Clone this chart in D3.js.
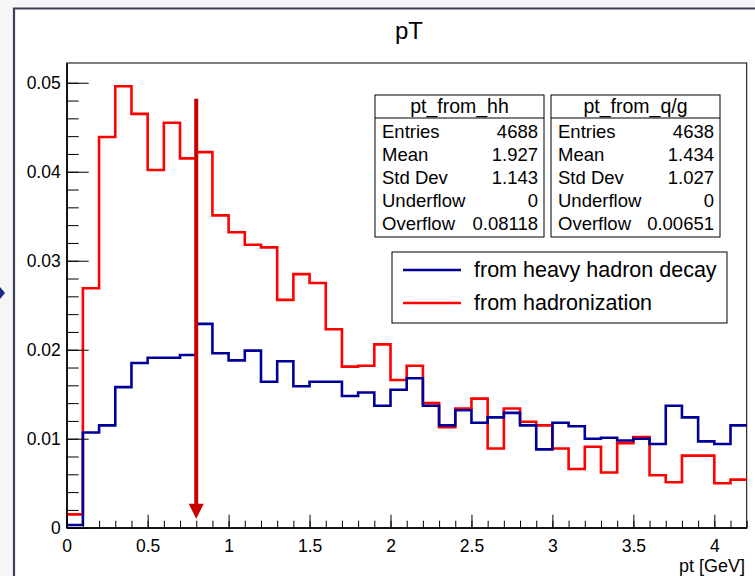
<!DOCTYPE html>
<html>
<head>
<meta charset="utf-8">
<script src="https://cdn.jsdelivr.net/npm/d3@7"></script>
<style>
  html, body { margin: 0; padding: 0; background: #f6f6f8; }
  svg { display: block; }
  text { font-family: "Liberation Sans", Arial, Helvetica, sans-serif; fill: #000; }
</style>
</head>
<body>
<svg id="chart" width="755" height="576"></svg>
<script>
// ---- data ----
const binWidth = 0.1;
const xMax = 4.2;
const fromHadronization = [
  0.0015, 0.0269, 0.0439, 0.0496, 0.0465, 0.0402, 0.0455, 0.0415, 0.0422, 0.0351,
  0.0332, 0.0318, 0.0315, 0.0256, 0.0285, 0.0275, 0.0223, 0.0181, 0.0182, 0.0206,
  0.0166, 0.0182, 0.0140, 0.0113, 0.0134, 0.0145, 0.0089, 0.0134, 0.0119, 0.0115,
  0.0089, 0.0066, 0.0091, 0.0062, 0.0095, 0.0102, 0.0059, 0.0051, 0.0081, 0.0081,
  0.0050, 0.0054
];
const fromHeavyHadron = [
  0.0003, 0.0107, 0.0115, 0.0158, 0.0185, 0.0191, 0.0191, 0.0194, 0.0229, 0.0196,
  0.0188, 0.0199, 0.0164, 0.0187, 0.0159, 0.0164, 0.0164, 0.0148, 0.0152, 0.0137,
  0.0155, 0.0168, 0.0137, 0.0115, 0.0132, 0.0118, 0.0124, 0.0129, 0.0115, 0.0088,
  0.0118, 0.0114, 0.0100, 0.0101, 0.0098, 0.0100, 0.0094, 0.0137, 0.0124, 0.0097,
  0.0094, 0.0115
];
const xTickValues = [0, 0.5, 1, 1.5, 2, 2.5, 3, 3.5, 4];
const xTickLabels = ["0", "0.5", "1", "1.5", "2", "2.5", "3", "3.5", "4"];
const yTickValues = [0, 0.01, 0.02, 0.03, 0.04, 0.05];
const yTickLabels = ["0", "0.01", "0.02", "0.03", "0.04", "0.05"];
const statLabels = ["Entries", "Mean", "Std Dev", "Underflow", "Overflow"];
const statsHH = ["4688", "1.927", "1.143", "0", "0.08118"];
const statsQG = ["4638", "1.434", "1.027", "0", "0.00651"];
const statTitles = ["pt_from_hh", "pt_from_q/g"];
const legendLabels = ["from heavy hadron decay", "from hadronization"];
const arrowX = 0.8, arrowTop = 0.0482, arrowTip = 0.0010;

// ---- layout ----
const svg = d3.select("#chart");
const L = 66.7, R = 746.7, T = 63, B = 527.7;
const x = d3.scaleLinear().domain([0, xMax]).range([L, R]);
const y = d3.scaleLinear().domain([0, 0.05222]).range([B, T]);

// canvas background & window border
svg.append("rect").attr("x", 15).attr("y", 9).attr("width", 740).attr("height", 567).attr("fill", "#fff");
svg.append("path").attr("d", "M14,576 V8.5 H755").attr("fill", "none").attr("stroke", "#3b4052").attr("stroke-width", 2.2);
svg.append("path").attr("d", "M0,287 L5,293 L0,299 Z").attr("fill", "#1a2a80");

// title
svg.append("text").attr("x", 409).attr("y", 39).attr("text-anchor", "middle")
  .style("font-size", "24px").text("pT");

// frame
svg.append("rect").attr("x", L).attr("y", T).attr("width", R - L).attr("height", B - T)
  .attr("fill", "none").attr("stroke", "#000").attr("stroke-width", 1);

// histograms
function stepPath(vals) {
  let d = `M${x(0)},${y(vals[0])}`;
  vals.forEach((v, i) => {
    if (i > 0) d += `V${y(v)}`;
    d += `H${x(Math.min((i + 1) * binWidth, xMax))}`;
  });
  return d;
}
svg.append("path").attr("d", stepPath(fromHadronization)).attr("fill", "none")
  .attr("stroke", "#ff0000").attr("stroke-width", 2.6);
svg.append("path").attr("d", stepPath(fromHeavyHadron)).attr("fill", "none")
  .attr("stroke", "#000099").attr("stroke-width", 2.6);

// x axis
const xMinor = d3.range(0, 43).map(i => i * binWidth).filter(v => v <= xMax + 1e-9);
const xAxisMinor = d3.axisBottom(x).tickValues(xMinor).tickSizeInner(-7).tickSizeOuter(0).tickFormat("");
const xAxisMajor = d3.axisBottom(x).tickValues(xTickValues).tickSizeInner(-13).tickSizeOuter(0)
  .tickFormat((d, i) => xTickLabels[i]).tickPadding(12);
const gxm = svg.append("g").attr("transform", `translate(0,${B})`).call(xAxisMinor);
const gx = svg.append("g").attr("transform", `translate(0,${B})`).call(xAxisMajor);
[gxm, gx].forEach(g => { g.select(".domain").attr("stroke", "#000"); g.selectAll("line").attr("stroke", "#000"); });
gx.selectAll("text").style("font-size", "17.5px").attr("font-family", null);

// y axis
const yMinor = d3.range(0, 26).map(i => i * 0.002);
const yAxisMinor = d3.axisLeft(y).tickValues(yMinor).tickSizeInner(-12).tickSizeOuter(0).tickFormat("");
const yAxisMajor = d3.axisLeft(y).tickValues(yTickValues).tickSizeInner(-22).tickSizeOuter(0)
  .tickFormat((d, i) => yTickLabels[i]).tickPadding(6);
const gym = svg.append("g").attr("transform", `translate(${L},0)`).call(yAxisMinor);
const gy = svg.append("g").attr("transform", `translate(${L},0)`).call(yAxisMajor);
[gym, gy].forEach(g => { g.select(".domain").attr("stroke", "#000"); g.selectAll("line").attr("stroke", "#000"); });
gy.selectAll("text").style("font-size", "17.5px").attr("font-family", null);

// axis title
svg.append("text").attr("x", 745).attr("y", 572).attr("text-anchor", "end")
  .style("font-size", "18px").text("pt [GeV]");

// arrow
svg.append("line").attr("x1", x(arrowX)).attr("x2", x(arrowX))
  .attr("y1", y(arrowTop)).attr("y2", y(arrowTip) - 14)
  .attr("stroke", "#c80000").attr("stroke-width", 4);
svg.append("path")
  .attr("d", `M${x(arrowX) - 7.5},${y(arrowTip) - 15} L${x(arrowX) + 7.5},${y(arrowTip) - 15} L${x(arrowX)},${y(arrowTip)} Z`)
  .attr("fill", "#c80000");

// stat boxes
const boxes = [
  { x0: 375, x1: 544, title: statTitles[0], vals: statsHH },
  { x0: 551, x1: 720, title: statTitles[1], vals: statsQG }
];
const bTop = 95, bHead = 118, bBot = 237, rowH = 23;
boxes.forEach(b => {
  const g = svg.append("g");
  g.append("rect").attr("x", b.x0).attr("y", bTop).attr("width", b.x1 - b.x0).attr("height", bBot - bTop)
    .attr("fill", "#fff").attr("stroke", "#000").attr("stroke-width", 1);
  g.append("line").attr("x1", b.x0).attr("x2", b.x1).attr("y1", bHead).attr("y2", bHead).attr("stroke", "#000");
  g.append("text").attr("x", (b.x0 + b.x1) / 2).attr("y", bHead - 5).attr("text-anchor", "middle")
    .style("font-size", "19.5px").text(b.title);
  statLabels.forEach((lab, i) => {
    const by = bHead + 20 + i * rowH;
    g.append("text").attr("x", b.x0 + 7).attr("y", by).style("font-size", "18.5px").text(lab);
    g.append("text").attr("x", b.x1 - 6).attr("y", by).attr("text-anchor", "end").style("font-size", "18.5px").text(b.vals[i]);
  });
});

// legend
const lg = svg.append("g");
lg.append("rect").attr("x", 392).attr("y", 252).attr("width", 335).attr("height", 71)
  .attr("fill", "#fff").attr("stroke", "#000").attr("stroke-width", 1);
const legColors = ["#000099", "#ff0000"];
legendLabels.forEach((lab, i) => {
  const ly = 270 + i * 33;
  lg.append("line").attr("x1", 403).attr("x2", 461).attr("y1", ly).attr("y2", ly)
    .attr("stroke", legColors[i]).attr("stroke-width", 2.6);
  lg.append("text").attr("x", 474).attr("y", ly + 7).style("font-size", "21.5px").text(lab);
});
</script>
</body>
</html>
